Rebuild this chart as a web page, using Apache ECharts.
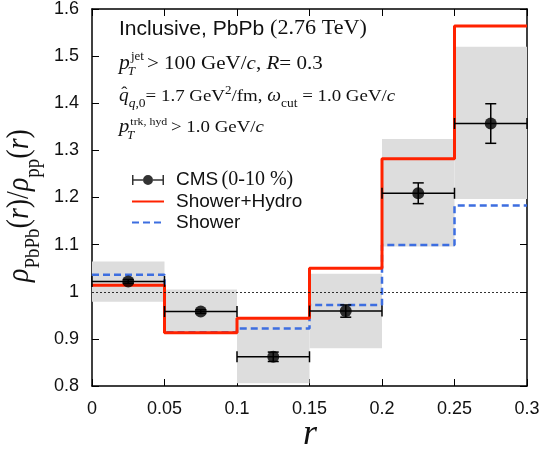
<!DOCTYPE html>
<html>
<head>
<meta charset="utf-8">
<script src="https://cdn.jsdelivr.net/npm/echarts@6/dist/echarts.min.js"></script>
<style>
  html, body { margin: 0; padding: 0; background: #fff; }
  #main { width: 543px; height: 455px; }
</style>
</head>
<body>
<div id="main"></div>
<script>
// bin edges in r, and values per bin
var binEdges = [0, 0.05, 0.1, 0.15, 0.2, 0.25, 0.3];
var cmsValue = [1.022, 0.958, 0.862, 0.959, 1.209, 1.357];
var cmsStatErr = [0.004, 0.004, 0.010, 0.013, 0.022, 0.042];
var cmsSysLow = [0.979, 0.912, 0.806, 0.880, 1.096, 1.197];
var cmsSysHigh = [1.064, 1.005, 0.945, 1.038, 1.324, 1.520];
var showerHydro = [1.014, 0.913, 0.944, 1.050, 1.282, 1.564];
var shower = [1.036, 0.914, 0.922, 0.972, 1.099, 1.183];

var SANS = '"Liberation Sans", Arial, sans-serif';
var SERIF = '"Liberation Serif", "Times New Roman", serif';
var INK = '#111';

var measureCtx = document.createElement('canvas').getContext('2d');

// lays out a run of text pieces (for sub/superscripts) from x0 on baseline base
function textRun(parts, x0, base) {
  var out = [];
  var x = x0, stackStart = null, stackW = 0;
  parts.forEach(function (p) {
    var size = p.s || 18, fam = p.f || SERIF, st = p.st || 'normal';
    var dx = p.dx || 0;
    measureCtx.font = st + ' ' + size + 'px ' + fam;
    var w = measureCtx.measureText(p.t).width;
    x += p.shift || 0;
    var x1 = stackStart !== null ? stackStart : x;
    out.push({
      type: 'text',
      x: x1 + dx,
      y: base + (p.dy || 0) - 0.35 * size,
      style: {
        text: p.t, fontSize: size, fontFamily: fam, fontStyle: st,
        fill: INK, verticalAlign: 'middle', align: 'left'
      }
    });
    if (p.stack) { stackStart = x; stackW = w + dx; }
    else if (stackStart !== null) { x = stackStart + Math.max(stackW, w + dx); stackStart = null; }
    else { x += w; }
  });
  return out;
}

function stepData(vals) {
  return binEdges.map(function (e, i) {
    return [e, vals[Math.min(i, vals.length - 1)]];
  });
}

var boxData = cmsValue.map(function (v, i) {
  return [binEdges[i], binEdges[i + 1], cmsSysLow[i], cmsSysHigh[i]];
});
var errData = cmsValue.map(function (v, i) {
  return [(binEdges[i] + binEdges[i + 1]) / 2, v, v - cmsStatErr[i], v + cmsStatErr[i], binEdges[i], binEdges[i + 1]];
});
var pointData = errData.map(function (d) { return [d[0], d[1]]; });

var cmsIcon = 'path://M0,1H1.5V5.25H11V6.75H1.5V11H0Z M21,5.25H30.5V1H32V11H30.5V6.75H21Z M11,6A5,5 0 1,1 21,6A5,5 0 1,1 11,6Z';

var annotations = []
  .concat(textRun([
    { t: 'Inclusive, PbPb ', f: SANS, s: 19.5 },
    { t: '(2.76 TeV)', s: 20.5 }
  ], 0, 36))
  .concat(textRun([
    { t: 'p', s: 20, st: 'italic' },
    { t: 'jet', s: 12, dx: 1, dy: -10, stack: true },
    { t: 'T', s: 12, st: 'italic', dx: -2, dy: 5 },
    { t: ' > 100 GeV/', s: 19.5, shift: -2 },
    { t: 'c', s: 19.5, st: 'italic' },
    { t: ', ', s: 19.5 },
    { t: 'R', s: 19.5, st: 'italic' },
    { t: '= 0.3', s: 19.5 }
  ], 0, 71))
  .concat(textRun([
    { t: '\u02C6', s: 17, dx: 2, dy: -4, stack: true },
    { t: 'q', s: 18, st: 'italic' },
    { t: 'q', s: 12.5, st: 'italic', dy: 5 },
    { t: ',0', s: 12.5, dy: 5 },
    { t: '= 1.7 GeV', s: 17.5 },
    { t: '2', s: 12, dy: -8 },
    { t: '/fm, ', s: 17.5 },
    { t: '\u03C9', s: 18, st: 'italic' },
    { t: 'cut', s: 12.5, dy: 5 },
    { t: ' = 1.0 GeV/', s: 17.5 },
    { t: 'c', s: 17.5, st: 'italic' }
  ], 0, 103))
  .concat(textRun([
    { t: 'p', s: 19, st: 'italic' },
    { t: 'trk, hyd', s: 11, dx: 1, dy: -8, stack: true },
    { t: 'T', s: 12, st: 'italic', dx: -2, dy: 6 },
    { t: ' > 1.0 GeV/', s: 17.5, shift: -1 },
    { t: 'c', s: 17.5, st: 'italic' }
  ], 0, 134));

var yLabel = textRun([
  { t: '\u03C1', s: 28, st: 'italic' },
  { t: 'PbPb', s: 19, dy: 9 },
  { t: '(', s: 28 },
  { t: 'r', s: 28, st: 'italic' },
  { t: ')/', s: 28 },
  { t: '\u03C1', s: 28, st: 'italic' },
  { t: 'pp', s: 19, dy: 9 },
  { t: '(', s: 28 },
  { t: 'r', s: 28, st: 'italic' },
  { t: ')', s: 28 }
], 0, 0);

var chart = echarts.init(document.getElementById('main'));

function frameAxis(extra) {
  return Object.assign({
    type: 'value',
    axisLine: { show: true, onZero: false, lineStyle: { color: '#000', width: 1.5 } },
    axisTick: { show: true, inside: true, length: 7, lineStyle: { color: '#000', width: 1 } },
    splitLine: { show: false }
  }, extra);
}

var option = {
  animation: false,
  backgroundColor: '#ffffff',
  grid: { left: 92, right: 16, top: 5, bottom: 69 },
  xAxis: [
    frameAxis({ min: 0, max: 0.3, interval: 0.05, position: 'bottom',
      axisLabel: { margin: 14, fontSize: 18, fontFamily: SANS, color: INK } }),
    frameAxis({ min: 0, max: 0.3, interval: 0.05, position: 'top', axisLabel: { show: false } })
  ],
  yAxis: [
    frameAxis({ min: 0.8, max: 1.6, interval: 0.1, position: 'left',
      axisLabel: { margin: 13, fontSize: 18, fontFamily: SANS, color: INK } }),
    frameAxis({ min: 0.8, max: 1.6, interval: 0.1, position: 'right', axisLabel: { show: false } })
  ],
  legend: {
    left: 131, top: 170, orient: 'vertical', padding: 0,
    itemWidth: 32, itemHeight: 12, itemGap: 2,
    data: [
      { name: 'CMS (0-10 %)', icon: cmsIcon },
      { name: 'Shower+Hydro', itemStyle: { opacity: 0 } },
      { name: 'Shower', itemStyle: { opacity: 0 } }
    ],
    formatter: function (name) {
      if (name === 'CMS (0-10 %)') return '{a|CMS} {b|(0-10 %)}';
      return '{a|' + name + '}';
    },
    textStyle: {
      lineHeight: 18,
      rich: {
        a: { fontFamily: SANS, fontSize: 19, color: INK, lineHeight: 18, padding: [0, 0, 0, 7] },
        b: { fontFamily: SERIF, fontSize: 20, color: INK, lineHeight: 18 }
      }
    }
  },
  graphic: [
    { type: 'group', x: 119, y: 0, scaleX: 1.08, children: annotations },
    { type: 'group', x: 31, y: 282, rotation: Math.PI / 2, scaleY: 1.1, children: yLabel },
    { type: 'text', x: 310, y: 447 - 0.35 * 36,
      style: { text: 'r', fontSize: 36, fontFamily: SERIF, fontStyle: 'italic', fill: INK,
        align: 'center', verticalAlign: 'middle' } }
  ],
  series: [
    {
      name: 'CMS sys',
      type: 'custom',
      z: 1,
      silent: true,
      data: boxData,
      encode: { x: [0, 1], y: [2, 3] },
      renderItem: function (params, api) {
        var p0 = api.coord([api.value(0), api.value(3)]);
        var p1 = api.coord([api.value(1), api.value(2)]);
        return {
          type: 'rect',
          shape: { x: p0[0], y: p0[1], width: p1[0] - p0[0], height: p1[1] - p0[1] },
          style: { fill: '#dddddd' }
        };
      }
    },
    {
      name: 'Shower',
      type: 'line',
      z: 3,
      step: 'end',
      symbol: 'none',
      data: stepData(shower),
      color: '#3d6ee0',
      lineStyle: { color: '#3d6ee0', width: 2.5, type: [7, 4] },
      markLine: {
        silent: true,
        symbol: 'none',
        label: { show: false },
        lineStyle: { color: '#000', width: 0.8, type: [2, 2] },
        data: [{ yAxis: 1 }]
      }
    },
    {
      name: 'Shower+Hydro',
      type: 'line',
      z: 4,
      step: 'end',
      symbol: 'none',
      data: stepData(showerHydro),
      color: '#ff2200',
      lineStyle: { color: '#ff2200', width: 3 }
    },
    {
      name: 'CMS err',
      type: 'custom',
      z: 5,
      silent: true,
      data: errData,
      encode: { x: [0, 4, 5], y: [1, 2, 3] },
      renderItem: function (params, api) {
        var c = api.coord([api.value(0), api.value(1)]);
        var l = api.coord([api.value(4), api.value(1)]);
        var r = api.coord([api.value(5), api.value(1)]);
        var lo = api.coord([api.value(0), api.value(2)]);
        var hi = api.coord([api.value(0), api.value(3)]);
        var st = { stroke: '#000', lineWidth: 1.5 };
        function seg(x1, y1, x2, y2) {
          return { type: 'line', shape: { x1: x1, y1: y1, x2: x2, y2: y2 }, style: st };
        }
        return {
          type: 'group',
          children: [
            seg(l[0], c[1], r[0], c[1]),
            seg(l[0], c[1] - 5.5, l[0], c[1] + 5.5),
            seg(r[0], c[1] - 5.5, r[0], c[1] + 5.5),
            seg(c[0], lo[1], c[0], hi[1]),
            seg(c[0] - 5.5, lo[1], c[0] + 5.5, lo[1]),
            seg(c[0] - 5.5, hi[1], c[0] + 5.5, hi[1])
          ]
        };
      }
    },
    {
      name: 'CMS (0-10 %)',
      type: 'scatter',
      z: 6,
      symbol: 'circle',
      symbolSize: 12,
      color: '#000',
      data: pointData
    }
  ]
};

chart.setOption(option);
</script>
</body>
</html>
